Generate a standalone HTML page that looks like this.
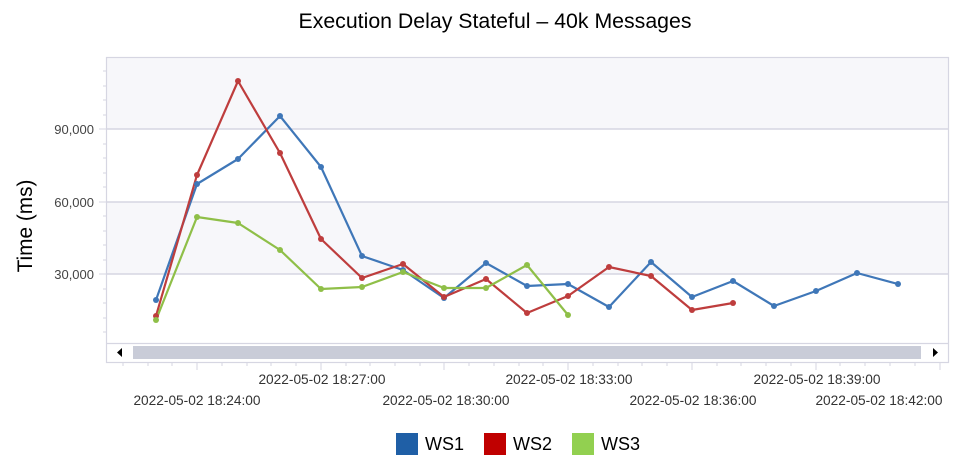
<!DOCTYPE html>
<html><head><meta charset="utf-8"><style>
html,body{margin:0;padding:0;background:#fff;}
svg{display:block;font-family:"Liberation Sans",sans-serif;}
</style></head><body>
<svg width="963" height="466" viewBox="0 0 963 466" xmlns="http://www.w3.org/2000/svg">
<text x="495" y="28" font-size="21.3" text-anchor="middle" fill="#000">Execution Delay Stateful – 40k Messages</text>
<rect x="106" y="57" width="842" height="72" fill="#f7f7fa"/>
<rect x="106" y="202" width="842" height="72" fill="#f7f7fa"/>
<line x1="106" y1="129" x2="948" y2="129" stroke="#d6d6e2" stroke-width="1.5"/>
<line x1="106" y1="202" x2="948" y2="202" stroke="#d6d6e2" stroke-width="1.5"/>
<line x1="106" y1="274" x2="948" y2="274" stroke="#d6d6e2" stroke-width="1.5"/>
<rect x="106.5" y="57.5" width="842" height="305" fill="none" stroke="#d6d6e2" stroke-width="1.2"/>
<line x1="106" y1="343.5" x2="948" y2="343.5" stroke="#d6d6e2" stroke-width="1.2"/>
<rect x="133" y="346" width="788" height="13" fill="#c9ccd8"/>
<polygon points="122,348 122,357 117,352.5" fill="#000"/>
<polygon points="933,348 933,357 938,352.5" fill="#000"/>
<g stroke="#d6d6e2" stroke-width="1">
<line x1="99" y1="129" x2="106" y2="129"/><line x1="99" y1="202" x2="106" y2="202"/><line x1="99" y1="274" x2="106" y2="274"/>
<line x1="103" y1="71" x2="106" y2="71"/><line x1="103" y1="86" x2="106" y2="86"/><line x1="103" y1="100" x2="106" y2="100"/><line x1="103" y1="115" x2="106" y2="115"/>
<line x1="103" y1="144" x2="106" y2="144"/><line x1="103" y1="158" x2="106" y2="158"/><line x1="103" y1="173" x2="106" y2="173"/><line x1="103" y1="187" x2="106" y2="187"/>
<line x1="103" y1="216" x2="106" y2="216"/><line x1="103" y1="231" x2="106" y2="231"/><line x1="103" y1="245" x2="106" y2="245"/><line x1="103" y1="260" x2="106" y2="260"/>
<line x1="103" y1="289" x2="106" y2="289"/><line x1="103" y1="303" x2="106" y2="303"/><line x1="103" y1="318" x2="106" y2="318"/><line x1="103" y1="332" x2="106" y2="332"/>
</g>
<g font-size="13" fill="#444" text-anchor="end">
<text x="94" y="134">90,000</text><text x="94" y="207">60,000</text><text x="94" y="279">30,000</text>
</g>
<text transform="translate(32,226) rotate(-90)" font-size="20.8" text-anchor="middle" fill="#000">Time (ms)</text>
<g stroke="#d6d6e2" stroke-width="1">
<line x1="123" y1="362" x2="123" y2="366"/><line x1="148" y1="362" x2="148" y2="366"/><line x1="172" y1="362" x2="172" y2="366"/>
<line x1="197" y1="362" x2="197" y2="370"/><line x1="222" y1="362" x2="222" y2="366"/><line x1="247" y1="362" x2="247" y2="366"/><line x1="271" y1="362" x2="271" y2="366"/><line x1="296" y1="362" x2="296" y2="366"/>
<line x1="321" y1="362" x2="321" y2="370"/><line x1="346" y1="362" x2="346" y2="366"/><line x1="370" y1="362" x2="370" y2="366"/><line x1="395" y1="362" x2="395" y2="366"/><line x1="420" y1="362" x2="420" y2="366"/>
<line x1="444" y1="362" x2="444" y2="370"/><line x1="469" y1="362" x2="469" y2="366"/><line x1="494" y1="362" x2="494" y2="366"/><line x1="519" y1="362" x2="519" y2="366"/><line x1="543" y1="362" x2="543" y2="366"/>
<line x1="568" y1="362" x2="568" y2="370"/><line x1="593" y1="362" x2="593" y2="366"/><line x1="618" y1="362" x2="618" y2="366"/><line x1="642" y1="362" x2="642" y2="366"/><line x1="667" y1="362" x2="667" y2="366"/>
<line x1="692" y1="362" x2="692" y2="370"/><line x1="717" y1="362" x2="717" y2="366"/><line x1="741" y1="362" x2="741" y2="366"/><line x1="766" y1="362" x2="766" y2="366"/><line x1="791" y1="362" x2="791" y2="366"/>
<line x1="816" y1="362" x2="816" y2="370"/><line x1="840" y1="362" x2="840" y2="366"/><line x1="865" y1="362" x2="865" y2="366"/><line x1="890" y1="362" x2="890" y2="366"/><line x1="915" y1="362" x2="915" y2="366"/>
<line x1="940" y1="362" x2="940" y2="370"/>
</g>
<g font-size="13.7" fill="#333" text-anchor="middle">
<text x="197" y="405">2022-05-02 18:24:00</text>
<text x="322" y="384">2022-05-02 18:27:00</text>
<text x="446" y="405">2022-05-02 18:30:00</text>
<text x="569" y="384">2022-05-02 18:33:00</text>
<text x="693" y="405">2022-05-02 18:36:00</text>
<text x="817" y="384">2022-05-02 18:39:00</text>
<text x="879" y="405">2022-05-02 18:42:00</text>
</g>
<g fill="none" stroke-width="2.2" stroke-linejoin="round">
<polyline stroke="#3f77b8" points="156,300 197,184 238,159 280,116 321,167 362,256 403,270 444,298 486,263 527,286 568,284 609,307 651,262 692,297 733,281 774,306 816,291 857,273 898,284"/>
<polyline stroke="#be3d3d" points="156,316 197,175 238,81 280,153 321,239 362,278 403,264 444,297 486,279 527,313 568,296 609,267 651,276 692,310 733,303"/>
<polyline stroke="#8fbf48" points="156,320 197,217 238,223 280,250 321,289 362,287 403,272 444,288 486,288 527,265 568,315"/>
</g>
<g fill="#3f77b8">
<circle cx="156" cy="300" r="3"/><circle cx="197" cy="184" r="3"/><circle cx="238" cy="159" r="3"/><circle cx="280" cy="116" r="3"/><circle cx="321" cy="167" r="3"/><circle cx="362" cy="256" r="3"/><circle cx="403" cy="270" r="3"/><circle cx="444" cy="298" r="3"/><circle cx="486" cy="263" r="3"/><circle cx="527" cy="286" r="3"/><circle cx="568" cy="284" r="3"/><circle cx="609" cy="307" r="3"/><circle cx="651" cy="262" r="3"/><circle cx="692" cy="297" r="3"/><circle cx="733" cy="281" r="3"/><circle cx="774" cy="306" r="3"/><circle cx="816" cy="291" r="3"/><circle cx="857" cy="273" r="3"/><circle cx="898" cy="284" r="3"/>
</g>
<g fill="#be3d3d">
<circle cx="156" cy="316" r="3"/><circle cx="197" cy="175" r="3"/><circle cx="238" cy="81" r="3"/><circle cx="280" cy="153" r="3"/><circle cx="321" cy="239" r="3"/><circle cx="362" cy="278" r="3"/><circle cx="403" cy="264" r="3"/><circle cx="444" cy="297" r="3"/><circle cx="486" cy="279" r="3"/><circle cx="527" cy="313" r="3"/><circle cx="568" cy="296" r="3"/><circle cx="609" cy="267" r="3"/><circle cx="651" cy="276" r="3"/><circle cx="692" cy="310" r="3"/><circle cx="733" cy="303" r="3"/>
</g>
<g fill="#8fbf48">
<circle cx="156" cy="320" r="3"/><circle cx="197" cy="217" r="3"/><circle cx="238" cy="223" r="3"/><circle cx="280" cy="250" r="3"/><circle cx="321" cy="289" r="3"/><circle cx="362" cy="287" r="3"/><circle cx="403" cy="272" r="3"/><circle cx="444" cy="288" r="3"/><circle cx="486" cy="288" r="3"/><circle cx="527" cy="265" r="3"/><circle cx="568" cy="315" r="3"/>
</g>
<rect x="396" y="433" width="22" height="22" fill="#1f5fa6"/>
<rect x="484" y="433" width="22" height="22" fill="#c00000"/>
<rect x="572" y="433" width="22" height="22" fill="#92d050"/>
<g font-size="18" fill="#000">
<text x="425" y="450">WS1</text><text x="513" y="450">WS2</text><text x="601" y="450">WS3</text>
</g>
</svg>
</body></html>
